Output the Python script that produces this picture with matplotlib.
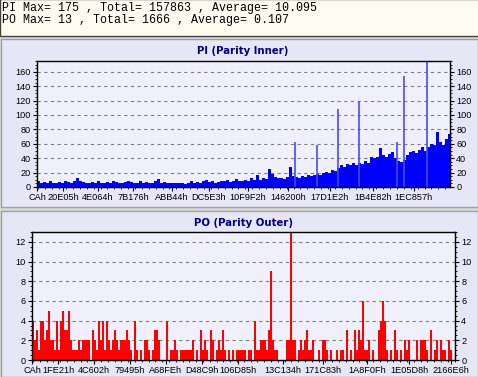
import matplotlib.pyplot as plt
from matplotlib.patches import Rectangle
from matplotlib.ticker import MultipleLocator

W, H = 478, 377

header_lines = ["PI Max= 175 , Total= 157863 , Average= 10.095",
                "PO Max= 13 , Total= 1666 , Average= 0.107"]

# PI (Parity Inner) errors per sample
pi_values = [9, 6, 7, 5, 8, 6, 5, 7, 6, 8, 7, 6, 9, 12, 8, 7, 6, 5, 7, 6, 8, 5, 6, 7, 6, 8, 7, 5, 6, 7,
             9, 7, 6, 5, 8, 6, 7, 5, 6, 8, 11, 6, 7, 5, 6, 5,
             5, 6, 5, 4, 6, 8, 5, 7, 6, 9, 10, 7, 8, 6, 7, 9, 8, 10, 7, 8, 11, 9, 8, 10, 9, 12, 10,
             16, 10, 12, 11, 25, 18, 14, 12, 13, 11, 14, 28, 15,
             14, 13, 15, 14, 16, 15, 17, 18, 17, 19, 21, 20, 23, 22,
             26, 30, 28, 32, 31, 33, 30, 34, 32, 36, 33, 41, 40, 42,
             54, 44, 42, 46, 48, 40, 36, 35, 38,
             45, 48, 50, 47, 52, 55, 50, 56, 60, 58, 76, 62, 58, 66, 74]
pi_spike_pos = [85.5, 92.8, 99.8, 106.8, 119.5, 121.8, 129.5]
pi_spike_val = [62, 58, 109, 120, 62, 154, 175]
pi_tick_pos = [-0.5, 8.2, 19.8, 31.5, 44.5, 56.8, 69.8, 83.2, 97.2, 111.5, 125.2]
pi_tick_labels = ["CAh", "20E05h", "4E064h", "7B176h", "ABB44h", "DC5E3h", "10F9F2h",
                  "146200h", "17D1E2h", "1B4E82h", "1EC857h"]

# PO (Parity Outer) errors per sample
po_values = [4, 2, 3, 1, 4, 4, 2, 3, 5, 2, 2, 1, 4, 1, 4, 5, 3, 3, 5, 2,
             1, 1, 1, 2, 1, 2, 2, 2, 2, 0, 3, 2, 1, 4, 2, 4, 1, 4, 2, 1,
             2, 3, 2, 1, 2, 2, 2, 3, 2, 1, 0, 4, 1, 0, 1, 0, 2, 2, 1, 0,
             1, 3, 3, 2, 0, 0, 0, 4, 0, 1, 1, 2, 1, 0, 1, 1, 1, 1, 1, 1,
             2, 0, 1, 0, 3, 1, 2, 1, 0, 3, 2, 0, 1, 2, 1, 3, 1, 0, 1, 0,
             1, 0, 1, 1, 1, 1, 1, 0, 1, 1, 0, 4, 1, 1, 2, 2, 2, 1, 3, 9,
             2, 1, 1, 0, 0, 0, 0, 2, 2, 13, 2, 2, 0, 1, 2, 1, 2, 3, 1, 1,
             2, 0, 0, 1, 0, 2, 2, 1, 0, 1, 0, 0, 1, 0, 1, 1, 0, 3, 0, 1,
             0, 3, 1, 3, 2, 6, 1, 1, 2, 0, 1, 0, 0, 3, 4, 6, 4, 1, 0, 1,
             0, 3, 1, 0, 1, 0, 2, 1, 2, 0, 0, 0, 2, 0, 2, 2, 2, 1, 0, 3,
             0, 1, 2, 0, 2, 1, 1, 0, 2, 1, 0]
po_tick_pos = [-0.5, 12.5, 30.5, 48.5, 66.5, 84.5, 102.5, 125, 145, 167, 188, 209]
po_tick_labels = ["CAh", "1FE21h", "4C602h", "79495h", "A68FEh", "D48C9h", "106D85h",
                  "13C134h", "171C83h", "1A8F0Fh", "1E05D8h", "2166E6h"]


def px_rect(x0, y0, x1, y1, **kw):
    # rectangle given in pixels from the top left corner
    return Rectangle((x0 / W, 1 - y1 / H), (x1 - x0) / W, (y1 - y0) / H,
                     transform=fig.transFigure, zorder=-10, **kw)


def px_axes(x0, y0, x1, y1):
    return fig.add_axes([x0 / W, 1 - y1 / H, (x1 - x0) / W, (y1 - y0) / H])


fig = plt.figure(figsize=(W / 100, H / 100), dpi=100)
fig.patch.set_facecolor('#d8d8d8')

# header box and the two chart panels
fig.add_artist(px_rect(0, -1, W + 1, 36, facecolor='#fbfbef', edgecolor='#404040', lw=1))
fig.add_artist(px_rect(0.5, 38.5, W - 0.5, 207, facecolor='#e6e6f6', edgecolor='#a0a0a0', lw=1))
fig.add_artist(px_rect(0.5, 210.5, W - 0.5, H - 0.5, facecolor='#e6e6f6', edgecolor='#a0a0a0', lw=1))

for k, line in enumerate(header_lines):
    fig.text(1.5 / W, 1 - (11.5 + 11.5 * k) / H, line, family='Liberation Mono', fontsize=8.4,
             va='baseline', ha='left', color='black')

fig.text(243 / W, 1 - 51 / H, "PI (Parity Inner)", fontsize=7.3, fontweight='bold',
         color='#000080', ha='center', va='center')
fig.text(243.5 / W, 1 - 223 / H, "PO (Parity Outer)", fontsize=7.3, fontweight='bold',
         color='#000080', ha='center', va='center')


def style_axes(ax, ymax, ystep, yminor, xticks, xlabels, xminor):
    ax.set_facecolor('#f0f0fc')
    ax.set_ylim(0, ymax)
    ax.yaxis.set_major_locator(MultipleLocator(ystep))
    ax.yaxis.set_minor_locator(MultipleLocator(yminor))
    ax.xaxis.set_minor_locator(MultipleLocator(xminor))
    ax.set_xticks(xticks)
    ax.set_xticklabels(xlabels)
    ax.tick_params(axis='both', which='major', labelsize=6.6, length=3, width=0.8, pad=1.5)
    ax.tick_params(axis='both', which='minor', length=1.5, width=0.6)
    ax.tick_params(axis='y', right=True, labelright=True, which='both')
    for lab in ax.get_xticklabels() + ax.get_yticklabels():
        lab.set_family('Liberation Sans')
    for t in ax.yaxis.get_major_ticks():
        t.label2.set_family('Liberation Sans')
    ax.grid(axis='y', color='#808080', linestyle=(0, (3, 3)), lw=0.8)
    ax.set_axisbelow(True)
    for s in ax.spines.values():
        s.set_linewidth(1.0)
        s.set_color('black')


# PI chart
ax1 = px_axes(37, 61, 450, 187)
ax1.bar(range(len(pi_values)), pi_values, width=1.0, color='#0000ff', linewidth=0)
ax1.vlines(pi_spike_pos, 0, pi_spike_val, color='#4a4aff', lw=1.2)
ax1.set_xlim(-0.5, 137.3)
style_axes(ax1, 175, 20, 5, pi_tick_pos, pi_tick_labels, 2.3)

# PO chart
ax2 = px_axes(32, 232, 455, 360)
ax2.bar(range(len(po_values)), po_values, width=0.6, color='#ff0000', linewidth=0)
ax2.set_xlim(-0.5, 211)
style_axes(ax2, 13, 2, 0.5, po_tick_pos, po_tick_labels, 3.4)

fig.savefig('out.png', dpi=100, facecolor=fig.get_facecolor())
